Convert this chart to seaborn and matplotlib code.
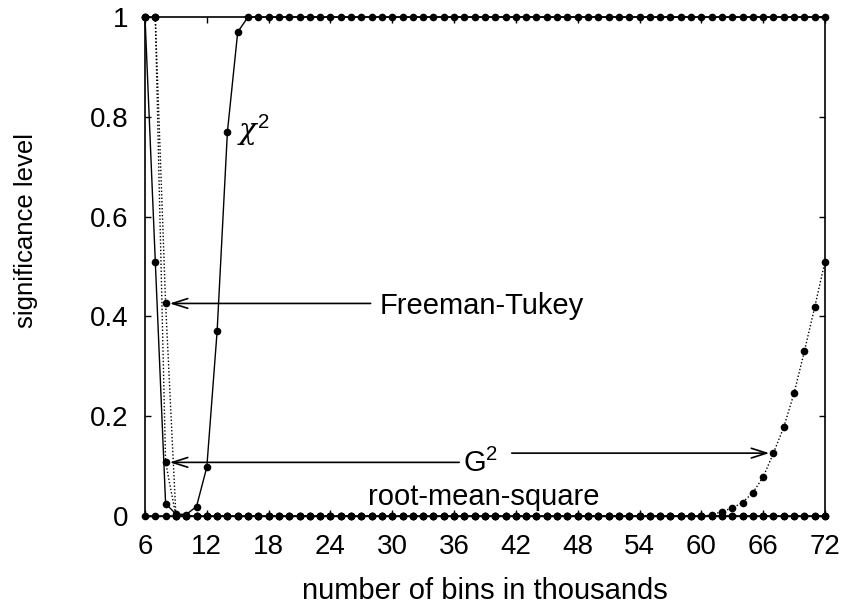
import matplotlib
matplotlib.use("Agg")
import matplotlib.pyplot as plt
import seaborn as sns

# number of bins (thousands), one point per thousand
bins = list(range(6, 73))

# significance levels, rows of 10 bins: 6-15, 16-25, ..., 66-72
chi2 = [1.0, 0.51, 0.025, 0.004, 0.003, 0.019, 0.098, 0.37, 0.77, 0.97,
        1.0, 1.0, 1.0, 1.0, 1.0, 1.0, 1.0, 1.0, 1.0, 1.0,
        1.0, 1.0, 1.0, 1.0, 1.0, 1.0, 1.0, 1.0, 1.0, 1.0,
        1.0, 1.0, 1.0, 1.0, 1.0, 1.0, 1.0, 1.0, 1.0, 1.0,
        1.0, 1.0, 1.0, 1.0, 1.0, 1.0, 1.0, 1.0, 1.0, 1.0,
        1.0, 1.0, 1.0, 1.0, 1.0, 1.0, 1.0, 1.0, 1.0, 1.0,
        1.0, 1.0, 1.0, 1.0, 1.0, 1.0, 1.0]

g2 = [1.0, 1.0, 0.108, 0, 0, 0, 0, 0, 0, 0,
      0, 0, 0, 0, 0, 0, 0, 0, 0, 0,
      0, 0, 0, 0, 0, 0, 0, 0, 0, 0,
      0, 0, 0, 0, 0, 0, 0, 0, 0, 0,
      0, 0, 0, 0, 0, 0, 0, 0, 0, 0,
      0, 0, 0, 0, 0, 0.002, 0.009, 0.016, 0.027, 0.047,
      0.078, 0.126, 0.178, 0.246, 0.33, 0.418, 0.51]

freeman_tukey = [1.0, 1.0, 0.426, 0, 0, 0, 0, 0, 0, 0,
                 0, 0, 0, 0, 0, 0, 0, 0, 0, 0,
                 0, 0, 0, 0, 0, 0, 0, 0, 0, 0,
                 0, 0, 0, 0, 0, 0, 0, 0, 0, 0,
                 0, 0, 0, 0, 0, 0, 0, 0, 0, 0,
                 0, 0, 0, 0, 0, 0, 0, 0, 0, 0,
                 0, 0, 0, 0, 0, 0, 0]

rms = [0, 0, 0, 0, 0, 0, 0, 0, 0, 0,
       0, 0, 0, 0, 0, 0, 0, 0, 0, 0,
       0, 0, 0, 0, 0, 0, 0, 0, 0, 0,
       0, 0, 0, 0, 0, 0, 0, 0, 0, 0,
       0, 0, 0, 0, 0, 0, 0, 0, 0, 0,
       0, 0, 0, 0, 0, 0, 0, 0, 0, 0,
       0, 0, 0, 0, 0, 0, 0]

xticks = [6, 12, 18, 24, 30, 36, 42, 48, 54, 60, 66, 72]
yticks = [0, 0.2, 0.4, 0.6, 0.8, 1]
ytick_labels = ['0', '0.2', '0.4', '0.6', '0.8', '1']

sns.set_style("ticks")
plt.rcParams['font.family'] = ['Liberation Sans', 'DejaVu Sans']
plt.rcParams['text.color'] = 'black'
plt.rcParams['axes.labelcolor'] = 'black'
plt.rcParams['mathtext.fontset'] = 'custom'
plt.rcParams['mathtext.rm'] = 'Liberation Sans'
plt.rcParams['mathtext.it'] = 'DejaVu Serif:italic'
plt.rcParams['mathtext.bf'] = 'Liberation Sans:bold'

fig = plt.figure(figsize=(8.43, 6.06), dpi=100)
ax = fig.add_axes([0.172, 0.1485, 0.8066, 0.8234])

dotted = (0, (1, 1.5))
series = [(rms, '-'), (g2, dotted), (freeman_tukey, dotted), (chi2, '-')]
for vals, ls in series:
    sns.lineplot(x=bins, y=vals, ax=ax, color='black', linestyle=ls, linewidth=1,
                 marker='o', markersize=5.5, markeredgecolor='black',
                 markeredgewidth=0, clip_on=False)

ax.set_xlim(6, 72)
ax.set_ylim(0, 1)
ax.set_xticks(xticks)
ax.set_yticks(yticks)
ax.set_yticklabels(ytick_labels)
ax.tick_params(direction='in', top=True, right=True, length=4.5, width=1,
               labelsize=20, colors='black')
ax.tick_params(axis='x', pad=13)
ax.tick_params(axis='y', pad=12)
for sp in ax.spines.values():
    sp.set_linewidth(1.2)
    sp.set_color('black')

ax.set_xlabel('number of bins in thousands', fontsize=21)
ax.set_ylabel('significance level', fontsize=18.5)
ax.xaxis.label.set_va('baseline')
ax.xaxis.set_label_coords(0.5, -0.166)
ax.yaxis.set_label_coords(-0.158, 0.573)

# labels with arrows (gnuplot style open heads)
arrow = dict(arrowstyle='->,head_length=1.1,head_width=0.35', color='black',
             lw=1.2, shrinkA=0, shrinkB=0, mutation_scale=10)
ax.annotate('', xy=(8.4, 0.426), xytext=(27.9, 0.426), arrowprops=arrow)
ax.text(28.8, 0.405, 'Freeman-Tukey', fontsize=21, va='baseline')

ax.annotate('', xy=(8.4, 0.1075), xytext=(36.5, 0.1075), arrowprops=arrow)
ax.annotate('', xy=(66.6, 0.126), xytext=(41.6, 0.126), arrowprops=arrow)
ax.text(36.9, 0.089, r'G$^{2}$', fontsize=21, va='baseline')

ax.text(27.65, 0.022, 'root-mean-square', fontsize=21, va='baseline')
ax.text(14.96, 0.753, r'$\chi^{2}$', fontsize=21, va='baseline')

plt.savefig('out.png', dpi=100)
